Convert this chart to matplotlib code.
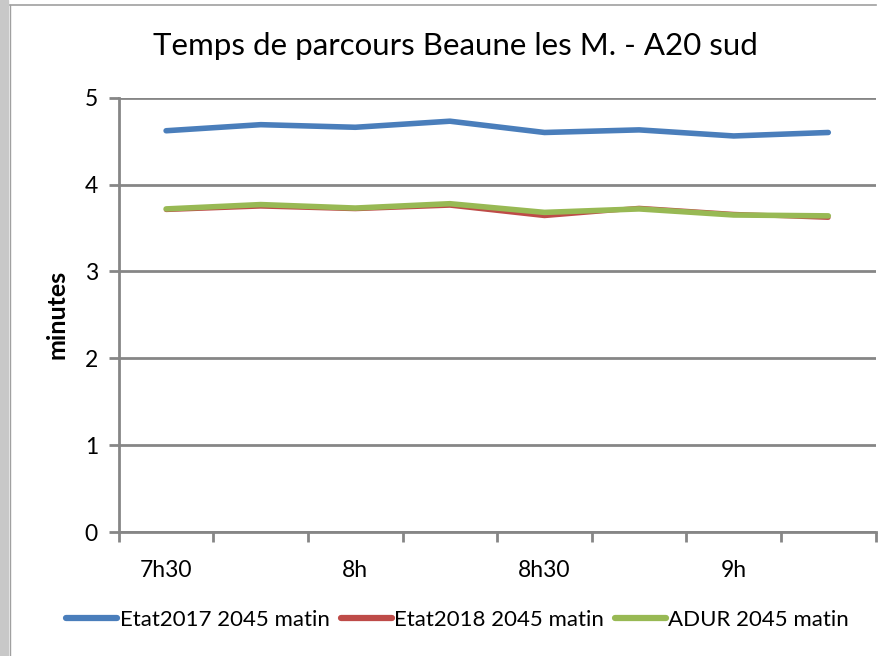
import matplotlib.pyplot as plt
from matplotlib.patches import Rectangle
from matplotlib.lines import Line2D

plt.rcParams['font.family'] = ['Lato', 'DejaVu Sans']

# Données
horaires = ['7h30', '7h45', '8h', '8h15', '8h30', '8h45', '9h', '9h15']
etiquettes = ['7h30', '', '8h', '', '8h30', '', '9h', '']
etat2017 = [4.62, 4.69, 4.66, 4.73, 4.60, 4.63, 4.56, 4.60]
etat2018 = [3.71, 3.75, 3.72, 3.76, 3.64, 3.73, 3.66, 3.62]
adur = [3.72, 3.77, 3.73, 3.78, 3.68, 3.72, 3.65, 3.64]

series = ['Etat2017 2045 matin', 'Etat2018 2045 matin', 'ADUR 2045 matin']
couleurs = ['#4A7EBB', '#BE4B48', '#98B954']

fig = plt.figure(figsize=(8.8, 6.56), dpi=100)
ax = fig.add_axes([0.135, 0.189, 0.860, 0.662])

x = range(len(horaires))
ax.plot(x, etat2017, color=couleurs[0], lw=4, solid_capstyle='round', label=series[0], zorder=3)
ax.plot(x, etat2018, color=couleurs[1], lw=3.4, solid_capstyle='round', label=series[1], zorder=3)
ax.plot(x, adur, color=couleurs[2], lw=4, solid_capstyle='round', label=series[2], zorder=4)

ax.set_xlim(-0.5, len(horaires) - 0.5)
ax.set_ylim(0, 5)
ax.set_yticks(range(6))
ax.set_xticks([i - 0.5 for i in range(len(horaires) + 1)])
ax.set_xticklabels([])
ax.set_xticks(list(x), minor=True)
ax.set_xticklabels(etiquettes, minor=True)
ax.tick_params(axis='x', which='minor', length=0, pad=20, labelsize=16.5)
ax.tick_params(axis='x', which='major', length=7, width=2, color='#868686', direction='out')
ax.tick_params(axis='y', length=7, width=2, color='#868686', labelsize=16.5, pad=8)

ax.grid(axis='y', color='#868686', lw=2)
for s in ['top', 'right']:
    ax.spines[s].set_visible(False)
for s in ['left', 'bottom']:
    ax.spines[s].set_color('#868686')
    ax.spines[s].set_linewidth(2)

ax.set_ylabel('minutes', fontsize=18, fontweight='bold', labelpad=12)
fig.text(0.518, 0.93, 'Temps de parcours Beaune les M. - A20 sud', ha='center', va='center', fontsize=22.5)

handles = [Line2D([], [], color=c, lw=4.5, solid_capstyle='round') for c in couleurs]
fig.legend(handles, series, loc='center', bbox_to_anchor=(0.52, 0.055), ncol=3, frameon=False,
           fontsize=16, handlelength=2.3, handletextpad=0.1, columnspacing=0.5)

# cadre de la capture
fig.patches.append(Rectangle((0, 0), 0.0095, 1, transform=fig.transFigure, color='#C8C8C8', zorder=0))
fig.lines.append(Line2D([0.011, 0.011], [0, 0.993], transform=fig.transFigure, color='#A0A0A0', lw=1))
fig.lines.append(Line2D([0.011, 0.995], [0.992, 0.992], transform=fig.transFigure, color='#A0A0A0', lw=1.2))

fig.savefig('out.png', dpi=100)
